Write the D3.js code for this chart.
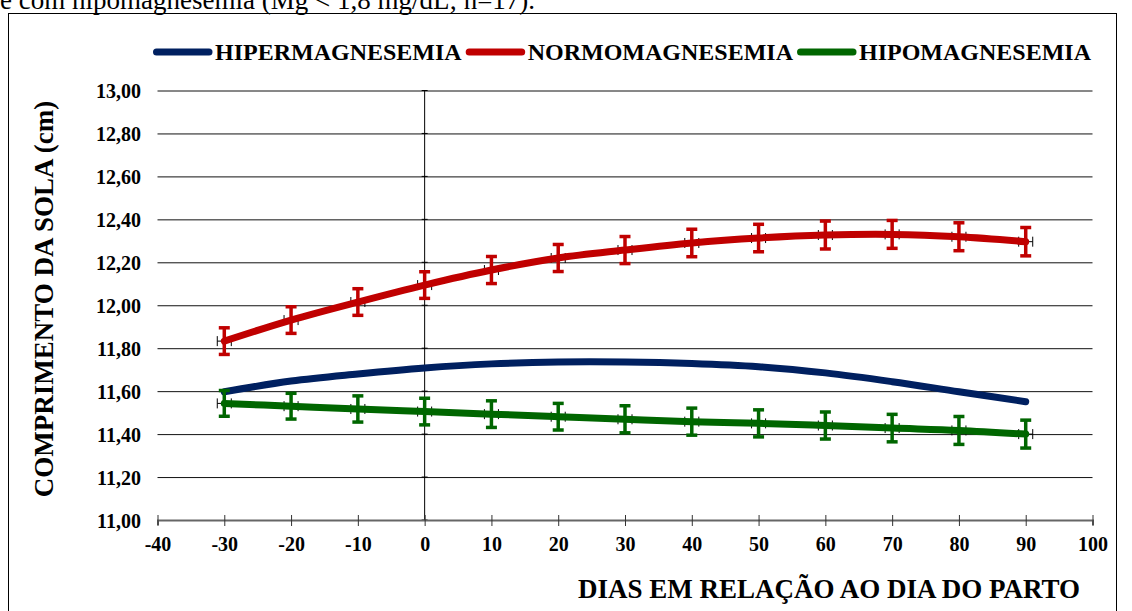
<!DOCTYPE html>
<html>
<head>
<meta charset="utf-8">
<script src="https://cdn.jsdelivr.net/npm/d3@7"></script>
<style>
  body { margin: 0; background: #fff; }
  svg { display: block; }
  svg text { font-family: "Liberation Serif", "Times New Roman", serif; }
</style>
</head>
<body>
<svg id="graph" width="1132" height="611"></svg>
<script>
// données
const dias = [-30, -20, -10, 0, 10, 20, 30, 40, 50, 60, 70, 80, 90];
const hiper = [11.597, 11.647, 11.68, 11.708, 11.727, 11.736, 11.736, 11.729, 11.714, 11.685, 11.644, 11.597, 11.551];
const normo = [11.833, 11.931, 12.015, 12.094, 12.164, 12.22, 12.257, 12.29, 12.313, 12.327, 12.33, 12.319, 12.296];
const normoErro = [0.062, 0.062, 0.062, 0.062, 0.063, 0.063, 0.063, 0.064, 0.064, 0.065, 0.065, 0.065, 0.066];
const hipo = [11.543, 11.53, 11.517, 11.505, 11.493, 11.481, 11.469, 11.458, 11.45, 11.44, 11.428, 11.417, 11.40];
const hipoErro = [0.06, 0.06, 0.061, 0.062, 0.062, 0.062, 0.063, 0.063, 0.063, 0.063, 0.064, 0.065, 0.065];
const xTicks = [-40, -30, -20, -10, 0, 10, 20, 30, 40, 50, 60, 70, 80, 90, 100];
const yTicks = [11.0, 11.2, 11.4, 11.6, 11.8, 12.0, 12.2, 12.4, 12.6, 12.8, 13.0];
const legenda = ["HIPERMAGNESEMIA", "NORMOMAGNESEMIA", "HIPOMAGNESEMIA"];
const cores = ["#002060", "#C00000", "#006600"];

const svg = d3.select("#graph");

const x = d3.scaleLinear().domain([-40, 100]).range([157.5, 1092.5]);
const y = d3.scaleLinear().domain([11, 13]).range([520, 90.5]);

// texte du haut (coupé comme dans l'original)
svg.append("text")
    .attr("x", 0).attr("y", 9)
    .attr("font-size", 27)
    .text("e com hipomagnesemia (Mg < 1,8 mg/dL; n=17).");

// cadre
svg.append("rect")
    .attr("x", 8.5).attr("y", 13.5)
    .attr("width", 1108).attr("height", 620)
    .attr("fill", "none").attr("stroke", "#000").attr("stroke-width", 1);

// lignes de grille
svg.append("g")
    .attr("transform", `translate(${x(-40)},0)`)
    .call(d3.axisLeft(y).tickValues(yTicks.slice(1)).tickSize(-(x(100) - x(-40))).tickFormat(""))
    .call(g => g.select(".domain").remove())
    .selectAll("line").attr("stroke", "#111").attr("stroke-width", 1);

// axe vertical au jour 0
svg.append("line")
    .attr("x1", x(0)).attr("x2", x(0))
    .attr("y1", y(13)).attr("y2", y(11))
    .attr("stroke", "#000").attr("stroke-width", 1);
svg.append("g")
    .selectAll("line")
    .data(yTicks)
    .join("line")
    .attr("x1", x(0) - 3).attr("x2", x(0) + 3)
    .attr("y1", d => y(d)).attr("y2", d => y(d))
    .attr("stroke", "#000");

// étiquettes y
const fmt = d3.format(".2f");
const axeY = svg.append("g")
    .attr("transform", `translate(${x(-40)},0)`)
    .call(d3.axisLeft(y).tickValues(yTicks).tickSize(0).tickPadding(16.5).tickFormat(d => fmt(d).replace(".", ",")));
axeY.attr("font-family", null).attr("font-size", null);
axeY.select(".domain").remove();
axeY.selectAll("text")
    .style("font-family", "'Liberation Serif', serif")
    .style("font-weight", "bold")
    .style("font-size", "20px")
    .attr("fill", "#000")
    .attr("dy", "0.35em");

// axe x
const axeX = svg.append("g")
    .attr("transform", `translate(0,${y(11)})`)
    .call(d3.axisBottom(x).tickValues(xTicks).tickSize(5).tickPadding(12).tickFormat(d => String(d)));
axeX.attr("font-family", null).attr("font-size", null);
axeX.select(".domain").attr("stroke", "#666").attr("stroke-width", 2);
axeX.selectAll(".tick line").attr("y1", -5).attr("y2", 6).attr("stroke", "#333");
axeX.selectAll("text")
    .style("font-family", "'Liberation Serif', serif")
    .style("font-weight", "bold")
    .style("font-size", "20px")
    .attr("fill", "#000");

// séries
const series = [
    { valores: hiper, erro: null, cor: cores[0] },
    { valores: normo, erro: normoErro, cor: cores[1] },
    { valores: hipo, erro: hipoErro, cor: cores[2] }
];

// petites barres d'erreur horizontales (noires)
series.forEach(s => {
    if (!s.erro) return;
    const g = svg.append("g");
    dias.forEach((d, i) => {
        const cy = y(s.valores[i]);
        g.append("line")
            .attr("x1", x(d - 1.05)).attr("x2", x(d + 1.05))
            .attr("y1", cy).attr("y2", cy)
            .attr("stroke", "#000").attr("stroke-width", 1);
        [d - 1.05, d + 1.05].forEach(xx => {
            g.append("line")
                .attr("x1", x(xx)).attr("x2", x(xx))
                .attr("y1", cy - 5).attr("y2", cy + 5)
                .attr("stroke", "#000").attr("stroke-width", 1);
        });
    });
});

// courbes
const linha = d3.line()
    .x((d, i) => x(dias[i]))
    .y(d => y(d))
    .curve(d3.curveCatmullRom.alpha(0.5));

series.forEach(s => {
    svg.append("path")
        .datum(s.valores)
        .attr("d", linha)
        .attr("fill", "none")
        .attr("stroke", s.cor)
        .attr("stroke-width", 7)
        .attr("stroke-linecap", "round");
});

// barres d'erreur verticales
series.forEach(s => {
    if (!s.erro) return;
    const g = svg.append("g").attr("stroke", s.cor).attr("stroke-width", 3.5);
    dias.forEach((d, i) => {
        const cx = x(d);
        const y1 = y(s.valores[i] + s.erro[i]);
        const y2 = y(s.valores[i] - s.erro[i]);
        g.append("line").attr("x1", cx).attr("x2", cx).attr("y1", y1).attr("y2", y2);
        g.append("line").attr("x1", cx - 5.5).attr("x2", cx + 5.5).attr("y1", y1).attr("y2", y1);
        g.append("line").attr("x1", cx - 5.5).attr("x2", cx + 5.5).attr("y1", y2).attr("y2", y2);
    });
});

// légende
let lx = 153;
legenda.forEach((nome, i) => {
    svg.append("line")
        .attr("x1", lx + 3.5).attr("x2", lx + 56)
        .attr("y1", 52).attr("y2", 52)
        .attr("stroke", cores[i]).attr("stroke-width", 7)
        .attr("stroke-linecap", "round");
    const t = svg.append("text")
        .attr("x", lx + 62).attr("y", 59.5)
        .attr("font-size", 24).attr("font-weight", "bold")
        .text(nome);
    lx = lx + 62 + t.node().getComputedTextLength() + 4;
});

// titres des axes
svg.append("text")
    .attr("transform", "translate(53,299) rotate(-90)")
    .attr("text-anchor", "middle")
    .attr("font-size", 27).attr("font-weight", "bold")
    .text("COMPRIMENTO DA SOLA (cm)");

svg.append("text")
    .attr("x", 829).attr("y", 598)
    .attr("text-anchor", "middle")
    .attr("font-size", 27).attr("font-weight", "bold")
    .text("DIAS EM RELAÇÃO AO DIA DO PARTO");
</script>
</body>
</html>
